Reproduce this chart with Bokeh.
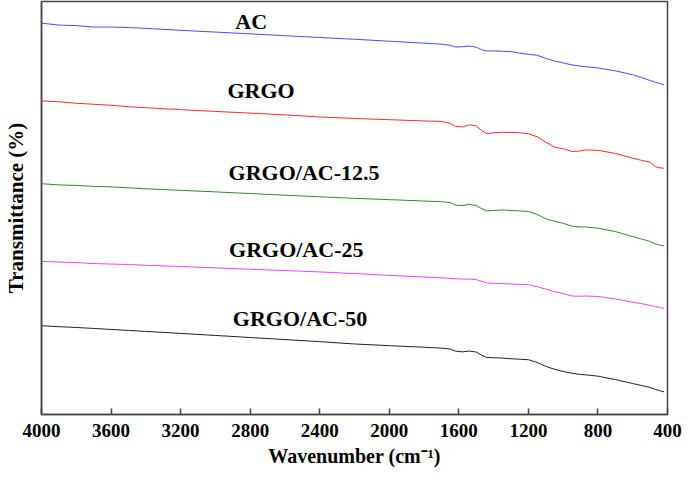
from bokeh.plotting import figure
from bokeh.models import Range1d, FixedTicker, ColumnDataSource
from bokeh.core.properties import value
from bokeh.embed import file_html
from bokeh.resources import INLINE

# Wavenumber grid (cm-1)
wavenumber = [4000, 3900, 3800, 3700, 3600, 3500, 3400, 3200, 3000, 2800, 2600, 2400,
              2200, 2000, 1800, 1700, 1650, 1620, 1580, 1540, 1500, 1470, 1440, 1400,
              1350, 1300, 1250, 1200, 1150, 1100, 1050, 1000, 950, 900, 870, 800, 700,
              600, 550, 500, 470, 440, 420]

# Offset transmittance (a.u.)
t_ac = [398, 396, 395.5, 394, 394, 393.5, 392.7, 390.7, 388.9, 387.1, 385.2, 383.4,
        381.6, 379.6, 377.6, 376.6, 375.5, 373.7, 374, 374.7, 373.5, 371, 369.7, 369.7,
        369.4, 369, 367.5, 366.2, 365.4, 362.2, 359.5, 357.5, 355.5, 354.2, 353.7, 352.4,
        349.5, 345.5, 342.7, 339.6, 338, 336.3, 335.5]
t_grgo = [319, 318, 316.5, 315.5, 314.5, 313, 312, 310, 308.2, 306.5, 304.7, 302.6,
          301, 299.8, 298.5, 298, 296, 293, 292.5, 294.5, 293.5, 289, 285.7, 286.5,
          287, 286.8, 286.5, 285.5, 282.5, 277, 272, 270.2, 267.5, 268, 269, 268.7,
          265.5, 260.7, 258.5, 256.7, 252, 250.7, 250.5]
t_ac125 = [234.7, 233.5, 233, 232, 231.5, 230.5, 229.5, 228, 226.4, 224.7, 223, 221.4,
           219.8, 218.5, 217.1, 216.4, 215.5, 213, 212.5, 213.7, 212.5, 209.5, 207, 207.5,
           208, 207.5, 207, 206.5, 203.5, 199, 196.5, 194.5, 191.5, 190.7, 190.7, 189.5,
           186, 181, 178.5, 176, 173.5, 172, 171.5]
t_ac25 = [155.7, 155, 154.5, 153.5, 153, 152.5, 151.8, 150.5, 149.1, 147.7, 146.4, 145,
          143.3, 141.5, 139.8, 139, 138.5, 138, 137.7, 137.7, 137.2, 135.5, 133.7, 133.5,
          133, 132.7, 132.3, 132, 130, 127.5, 125, 123, 120.5, 120.3, 120.5, 120,
          117.5, 114.2, 112.7, 111, 109.7, 108.5, 108]
t_ac50 = [90.3, 89.3, 88.5, 87.5, 86.5, 85.5, 84.5, 82.5, 80.4, 78.3, 76.2, 74.1,
          71.7, 70, 68.4, 67.5, 66.5, 64.5, 63.7, 64.5, 63.5, 60.5, 58, 57.7,
          57.4, 56.7, 56.2, 55.7, 53, 49, 46, 43.7, 42, 40.7, 40.3, 39,
          35.5, 31.5, 29.5, 27.5, 25.5, 24, 23]

series_names = ["AC", "GRGO", "GRGO/AC-12.5", "GRGO/AC-25", "GRGO/AC-50"]
series_values = [t_ac, t_grgo, t_ac125, t_ac25, t_ac50]
series_colors = ["#4a4aff", "#ff2a2a", "#2a8a2a", "#ff3cff", "#222222"]

label_x = [2794, 2737, 2490, 2535, 2513]
label_y = [400, 330, 246, 168, 98]

x_ticks = [4000, 3600, 3200, 2800, 2400, 2000, 1600, 1200, 800, 400]

FONT = "Liberation Serif"

p = figure(width=684, height=471, output_backend="svg", toolbar_location=None,
           x_range=Range1d(4000, 400), y_range=Range1d(0, 420),
           min_border_left=40, min_border_right=17, min_border_top=1, min_border_bottom=57,
           background_fill_color="white", border_fill_color="white")
p.grid.visible = False
p.outline_line_color = "#444444"
p.outline_line_width = 1.5

for vals, col in zip(series_values, series_colors):
    p.line(wavenumber, vals, line_color=col, line_width=1)

src = ColumnDataSource(dict(x=label_x, y=label_y, t=series_names))
p.text(x="x", y="y", text="t", source=src, text_font=value(FONT),
       text_font_style="bold", text_font_size="22px", text_align="center",
       text_baseline="middle", text_color="black")

xa = p.xaxis[0]
xa.ticker = FixedTicker(ticks=x_ticks)
xa.major_tick_in = 6
xa.major_tick_out = 0
xa.minor_tick_line_color = None
xa.axis_line_color = "#444444"
xa.axis_line_width = 1.5
xa.major_tick_line_color = "#444444"
xa.major_tick_line_width = 1.5
xa.major_label_text_font = FONT
xa.major_label_text_font_style = "bold"
xa.major_label_text_font_size = "19px"
xa.major_label_text_color = "black"
xa.major_label_standoff = 9
xa.axis_label = "Wavenumber (cm\u207b\u00b9)"
xa.axis_label_text_font = FONT
xa.axis_label_text_font_style = "bold"
xa.axis_label_text_font_size = "20px"
xa.axis_label_text_color = "black"
xa.axis_label_standoff = 5

ya = p.yaxis[0]
ya.ticker = FixedTicker(ticks=[])
ya.major_tick_line_color = None
ya.minor_tick_line_color = None
ya.axis_line_color = "#444444"
ya.axis_line_width = 1.5
ya.axis_label = "Transmittance (%)"
ya.axis_label_text_font = FONT
ya.axis_label_text_font_style = "bold"
ya.axis_label_text_font_size = "21px"
ya.axis_label_text_color = "black"
ya.axis_label_standoff = 14

open("out.html", "w").write(file_html(p, INLINE))
